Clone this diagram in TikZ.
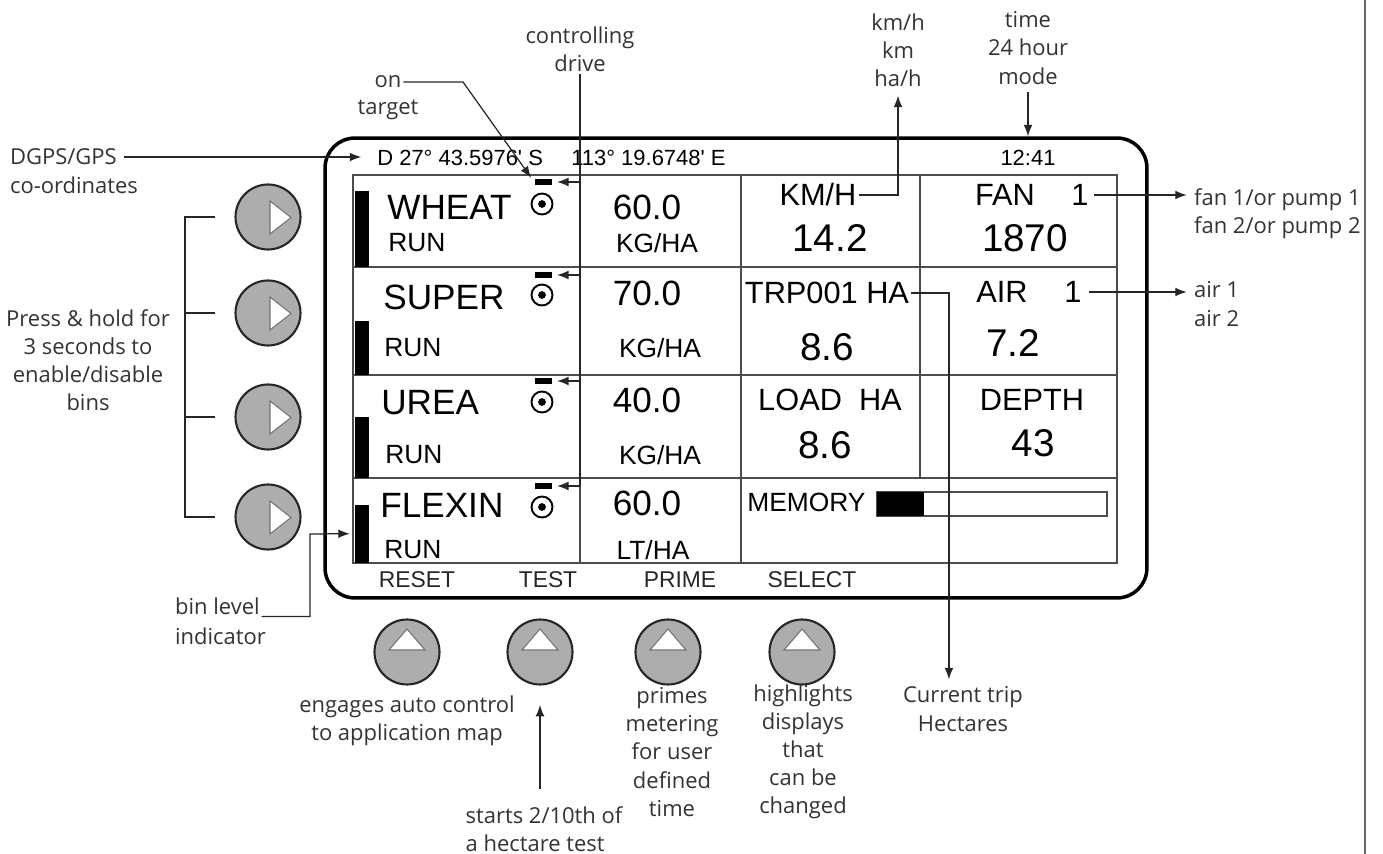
\documentclass[tikz,border=0pt]{standalone}
\usepackage{fontspec}
\setmainfont{Open Sans}
\newfontfamily\lcdfont{Liberation Sans}
\usepackage{tikz}
\usetikzlibrary{
    arrows.meta,
    calc,
    positioning
}
\tikzset{
    panel/.style    = {rectangle, draw=black, line width=2pt, rounded corners=17pt,
                       minimum width=16.44cm, minimum height=9.2cm},
    gridline/.style = {draw=black!70, line width=0.8pt},
    binbar/.style   = {rectangle, fill=black, inner sep=0pt, minimum width=0.28cm,
                       anchor=south west},
    ctlMark/.style  = {rectangle, fill=black, inner sep=0pt,
                       minimum width=0.34cm, minimum height=0.12cm},
    tgt/.style      = {circle, draw=black, line width=1.1pt, inner sep=0pt,
                       minimum size=0.42cm},
    keyBtn/.style   = {circle, draw=black!85, fill=black!32, line width=1.2pt,
                       inner sep=0pt, minimum size=1.3cm},
    glyph/.style    = {fill=white, draw=black!55, line width=0.6pt},
    ann/.style      = {draw=black!85, line width=0.7pt},
    annArr/.style   = {ann, -{Latex[length=6.5pt,width=5pt]}},
    note/.style     = {font=\fontsize{12.5}{16}\selectfont, text=black!80,
                       align=center, inner sep=1pt}
}

\begin{document}
\begin{tikzpicture}[
    x=0.02cm, y=-0.02cm,
    lcdTop/.style  = {font=\lcdfont\fontsize{12.5}{14}\selectfont, inner sep=0pt},
    lcdName/.style = {font=\lcdfont\fontsize{20}{22}\selectfont, inner sep=0pt,
                      anchor=west},
    lcdSub/.style  = {font=\lcdfont\fontsize{15}{17}\selectfont, inner sep=0pt},
    lcdRate/.style = {font=\lcdfont\fontsize{20}{22}\selectfont, inner sep=0pt},
    lcdHead/.style = {font=\lcdfont\fontsize{17.5}{20}\selectfont, inner sep=0pt},
    lcdVal/.style  = {font=\lcdfont\fontsize{22}{24}\selectfont, inner sep=0pt},
    lcdKey/.style  = {font=\lcdfont\fontsize{13}{15}\selectfont, inner sep=0pt,
                      text=black!85}
]
\useasboundingbox (0,0) rectangle (1383,854);

% ===== Page edge =====
\draw[draw=black!60, line width=1.2pt] (1365,0) -- (1365,854);

% ===== Display panel =====
\node[panel] (panel) at (736,368) {};

\node[lcdTop, anchor=west] (lat) at (377,158) {D 27° 43.5976' S};
\node[lcdTop, anchor=west] (lon) at (571,158) {113° 19.6748' E};
\node[lcdTop] (clock) at (1028,158) {12:41};

% ===== Grid =====
\draw[gridline] (353,175) rectangle (1117,563);
\draw[gridline] (353,267) -- (1117,267);
\draw[gridline] (353,375) -- (1117,375);
\draw[gridline] (353,478) -- (1117,478);
\draw[gridline] (580,175) -- (580,563);
\draw[gridline] (741,175) -- (741,563);
\draw[gridline] (920,175) -- (920,478);

% bin level bars
\node[binbar, minimum height=1.52cm] (bar1) at (355,267) {};
\node[binbar, minimum height=1.08cm] (bar2) at (355,375) {};
\node[binbar, minimum height=1.22cm] (bar3) at (355,478) {};
\node[binbar, minimum height=1.16cm] (bar4) at (355,563) {};

% ===== Bin rows =====
\node[lcdName] (wheat) at (387,207) {WHEAT};
\node[lcdSub, anchor=west] (run1) at (388,243) {RUN};
\node[lcdName] (super) at (383,297) {SUPER};
\node[lcdSub, anchor=west] (run2) at (384,348) {RUN};
\node[lcdName] (urea) at (381,403) {UREA};
\node[lcdSub, anchor=west] (run3) at (385,455) {RUN};
\node[lcdName] (flexin) at (380,505) {FLEXIN};
\node[lcdSub, anchor=west] (run4) at (384,550) {RUN};

\node[ctlMark] (ctl1) at (543,182) {};
\node[ctlMark] (ctl2) at (543,275) {};
\node[ctlMark] (ctl3) at (543,381) {};
\node[ctlMark] (ctl4) at (543,486) {};
\node[tgt] (tgt1) at (542,204) {};
\node[tgt] (tgt2) at (542,295) {};
\node[tgt] (tgt3) at (542,402) {};
\node[tgt] (tgt4) at (542,507) {};
\fill (tgt1) circle (2.2pt);
\fill (tgt2) circle (2.2pt);
\fill (tgt3) circle (2.2pt);
\fill (tgt4) circle (2.2pt);

\node[lcdRate] (rate1) at (647,207) {60.0};
\node[lcdSub]  (unit1) at (657,243) {KG/HA};
\node[lcdRate] (rate2) at (647,293) {70.0};
\node[lcdSub]  (unit2) at (660,348) {KG/HA};
\node[lcdRate] (rate3) at (647,400) {40.0};
\node[lcdSub]  (unit3) at (660,455) {KG/HA};
\node[lcdRate] (rate4) at (647,503) {60.0};
\node[lcdSub]  (unit4) at (653,550) {LT/HA};

% ===== Speed / area column =====
\node[lcdHead] (kmh)   at (818,195) {KM/H};
\node[lcdVal]  (speed) at (830,238) {14.2};
\node[lcdHead] (trp)   at (827,293) {TRP001 HA};
\node[lcdVal]  (trpha) at (827,347) {8.6};
\node[lcdHead] (load)  at (830,400) {LOAD\ \ HA};
\node[lcdVal]  (loadha) at (825,445) {8.6};

% ===== Fan / air / depth column =====
\node[lcdHead] (fanT)  at (1005,195) {FAN};
\node[lcdHead] (fanNo) at (1080,195) {1};
\node[lcdVal]  (rpm)   at (1025,238) {1870};
\node[lcdHead] (airT)  at (1002,292) {AIR};
\node[lcdHead] (airNo) at (1073,292) {1};
\node[lcdVal]  (press) at (1013,343) {7.2};
\node[lcdHead] (depthT) at (1032,400) {DEPTH};
\node[lcdVal]  (depth) at (1033,443) {43};

% memory gauge
\node[lcdSub, anchor=west] (memory) at (747,502) {MEMORY};
\draw[gridline] (877,492) rectangle (1107,516);
\fill (877,492) rectangle (924,516);

% soft key captions
\node[lcdKey] (reset)  at (417,580) {RESET};
\node[lcdKey] (test)   at (548,580) {TEST};
\node[lcdKey] (prime)  at (680,580) {PRIME};
\node[lcdKey] (select) at (812,580) {SELECT};

% ===== Buttons =====
\node[keyBtn] (lb1) at (268,217) {};
\node[keyBtn] (lb2) at (268,313) {};
\node[keyBtn] (lb3) at (268,417) {};
\node[keyBtn] (lb4) at (268,517) {};
\draw[glyph] ($(lb1)+(2,-16)$) -- ++(0,33) -- ++(21,-16.5) -- cycle;
\draw[glyph] ($(lb2)+(2,-16)$) -- ++(0,33) -- ++(21,-16.5) -- cycle;
\draw[glyph] ($(lb3)+(2,-16)$) -- ++(0,33) -- ++(21,-16.5) -- cycle;
\draw[glyph] ($(lb4)+(2,-16)$) -- ++(0,33) -- ++(21,-16.5) -- cycle;

\node[keyBtn] (kb1) at (407,652) {};
\node[keyBtn] (kb2) at (540,652) {};
\node[keyBtn] (kb3) at (668,652) {};
\node[keyBtn] (kb4) at (802,652) {};
\draw[glyph] ($(kb1)+(-18,-2)$) -- ++(36,0) -- ++(-18,-21) -- cycle;
\draw[glyph] ($(kb2)+(-18,-2)$) -- ++(36,0) -- ++(-18,-21) -- cycle;
\draw[glyph] ($(kb3)+(-18,-2)$) -- ++(36,0) -- ++(-18,-21) -- cycle;
\draw[glyph] ($(kb4)+(-18,-2)$) -- ++(36,0) -- ++(-18,-21) -- cycle;

% ===== Callouts, top =====
\node[note] (on)     at (388,82)  {on};
\node[note] (target) at (388,110) {target};
\coordinate (onBend) at (463,82);
\draw[annArr, shorten >=3pt] (on.east) -- (onBend) -- (ctl1.west);

\node[note] (drive) at (580,49) {controlling\\drive};
\draw[ann] (drive.south) -- (drive.south |- ctl4.east);
\draw[annArr, shorten >=3pt] (drive.south |- ctl1.east) -- (ctl1.east);
\draw[annArr, shorten >=3pt] (drive.south |- ctl2.east) -- (ctl2.east);
\draw[annArr, shorten >=3pt] (drive.south |- ctl3.east) -- (ctl3.east);
\draw[annArr, shorten >=3pt] (drive.south |- ctl4.east) -- (ctl4.east);

\node[note] (units) at (898,50) {km/h\\km\\ha/h};
\draw[annArr, shorten <=1pt, shorten >=4pt] (kmh.east) -| (units.south);

\node[note] (time) at (1028,48) {time\\24 hour\\mode};
\draw[annArr, shorten <=3pt] (time.south) -- (time.south |- panel.north);

% ===== Callouts, left =====
\node[note, anchor=west] (dgps)  at (8,157) {DGPS/GPS};
\node[note, anchor=west] (dgps2) at (8,185) {co-ordinates};
\draw[annArr, shorten <=3pt, shorten >=9pt] (dgps.east) -- (dgps.east -| lat.west);

\node[note] (hold) at (88,360) {Press \& hold for\\3 seconds to\\enable/disable\\bins};
\coordinate (brk) at (185,0);
\draw[ann] ([xshift=-11pt]lb1.west) -- (brk |- lb1) -- (brk |- lb4)
   -- ([xshift=-11pt]lb4.west);
\draw[ann] ([xshift=-11pt]lb2.west) -- (brk |- lb2);
\draw[ann] ([xshift=-11pt]lb3.west) -- (brk |- lb3);

\node[note, anchor=west] (bin)  at (173,606) {bin level};
\node[note, anchor=west] (bin2) at (173,636) {indicator};
\coordinate (binBend) at (310,534);
\draw[annArr, shorten >=3pt] (bin.south east) -| (binBend) -- (bar4.west);

% ===== Callouts, right =====
\node[note, align=left, anchor=west] (fan) at (1192,214)
   {fan 1/or pump 1\\fan 2/or pump 2};
\draw[annArr, shorten <=3pt, shorten >=3pt] (fanNo.east) -- (fanNo.east -| fan.west);

\node[note, align=left, anchor=west] (air) at (1192,304) {air 1\\air 2};
\draw[annArr, shorten <=4pt, shorten >=3pt] (airNo.east) -- (airNo.east -| air.west);

% ===== Callouts, bottom =====
\node[note] (engage) at (407,721) {engages auto control\\to application map};
\node[note, align=left] (starts) at (544,829) {starts 2/10th of\\a hectare test};
\draw[annArr, shorten <=9pt, shorten >=11pt] (kb2 |- starts.north) -- (kb2.south);
\node[note] (primes) at (672,752) {primes\\metering\\for user\\defined\\time};
\node[note] (highl) at (803,752) {highlights\\displays\\that\\can be\\changed};
\node[note] (trip) at (963,709) {Current trip\\Hectares};
\draw[annArr, shorten <=1pt, shorten >=3pt] (trp.east) -| ([xshift=-8pt]trip.north);

\end{tikzpicture}
\end{document}
